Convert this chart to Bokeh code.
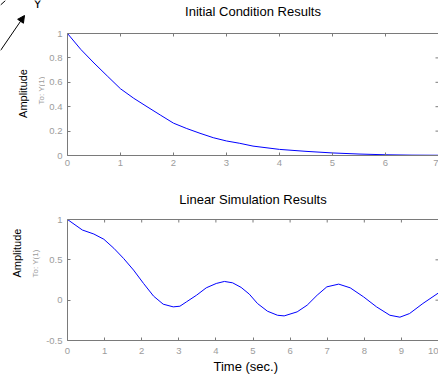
import math
from bokeh.plotting import figure
from bokeh.layouts import column, row
from bokeh.models import Range1d, LinearAxis, FixedTicker, Arrow, NormalHead, Label, Title
from bokeh.embed import file_html
from bokeh.resources import INLINE

# ---- data ----
t_init = [0, 0.25, 0.5, 0.75, 1, 1.25, 1.5, 1.75, 2, 2.25, 2.5, 2.75, 3, 3.25, 3.5, 4, 4.5, 5, 5.5, 6, 6.5, 7]
y_init = [1, 0.87, 0.758, 0.652, 0.547, 0.469, 0.40, 0.332, 0.265, 0.221, 0.182, 0.146, 0.119, 0.10,
          0.077, 0.05, 0.034, 0.021, 0.012, 0.006, 0.003, 0.002]

t_lin = [0, 0.40, 0.71, 0.98, 1.25, 1.51, 1.78, 2.05, 2.32, 2.58, 2.85, 3.03, 3.21, 3.48, 3.74, 4.01,
         4.23, 4.45, 4.68, 4.90, 5.12, 5.39, 5.66, 5.84, 6.19, 6.46, 6.73, 6.99, 7.31, 7.62, 7.98,
         8.33, 8.69, 8.96, 9.22, 9.58, 10]
y_lin = [1, 0.87, 0.82, 0.755, 0.643, 0.518, 0.373, 0.207, 0.05, -0.05, -0.083, -0.075, -0.02, 0.062,
         0.153, 0.207, 0.232, 0.215, 0.158, 0.075, -0.041, -0.137, -0.187, -0.195, -0.145, -0.062,
         0.062, 0.165, 0.199, 0.153, 0.041, -0.083, -0.187, -0.211, -0.166, -0.041, 0.09]

x_ticks_init = [0, 1, 2, 3, 4, 5, 6, 7]
x_labels_init = ["0", "1", "2", "3", "4", "5", "6", "7"]
y_ticks_init = [0, 0.2, 0.4, 0.6, 0.8, 1]
y_labels_init = ["0", "0.2", "0.4", "0.6", "0.8", "1"]

x_ticks_lin = [0, 1, 2, 3, 4, 5, 6, 7, 8, 9, 10]
x_labels_lin = ["0", "1", "2", "3", "4", "5", "6", "7", "8", "9", "10"]
y_ticks_lin = [-0.5, 0, 0.5, 1]
y_labels_lin = ["-0.5", "0", "0.5", "1"]

title_init = "Initial Condition Results"
title_lin = "Linear Simulation Results"
ylabel_outer = "Amplitude"
ylabel_inner = "To: Y(1)"
xlabel = "Time (sec.)"
corner_text = "Y"

FONT = "Liberation Sans"
AXC = "#7a7a7a"
TLC = "#9c9c9c"


def no_frame_align(p):
    if "frame_align" in p.properties():
        p.frame_align = False
        return True
    return False


def style_axis(ax, ticks, labels, standoff):
    ax.ticker = FixedTicker(ticks=ticks)
    ax.major_label_overrides = {t: l for t, l in zip(ticks, labels)}
    ax.axis_line_color = AXC
    ax.major_tick_line_color = AXC
    ax.major_tick_in = 3
    ax.major_tick_out = 0
    ax.minor_tick_line_color = None
    ax.major_label_text_font = FONT
    ax.major_label_text_color = TLC
    ax.major_label_text_font_size = "9.5px"
    ax.major_label_standoff = standoff


def side_title(text, size, color, offset, standoff):
    return Title(text=text, align="left", offset=offset, standoff=standoff, text_font=FONT,
                 text_font_size=size, text_font_style="normal", text_color=color)


def make_fig(t, y, xr, yr, xt, xl, yt, yl, title, width, height, lborder, bborder, xstand, tstand):
    p = figure(width=width, height=height, output_backend="svg", toolbar_location=None,
               title_location=None,
               x_range=Range1d(*xr), y_range=Range1d(*yr), x_axis_location=None, y_axis_location=None,
               min_border_left=lborder, min_border_right=0, min_border_top=33, min_border_bottom=bborder)
    p.grid.visible = False
    p.outline_line_color = None
    p.background_fill_color = "white"
    p.border_fill_color = "white"

    bottom = LinearAxis()
    style_axis(bottom, xt, xl, xstand)
    p.add_layout(bottom, "below")

    # top edge of the box, carrying the plot title as its label
    top = LinearAxis(ticker=FixedTicker(ticks=[]), axis_line_color=AXC, major_tick_line_color=None,
                     minor_tick_line_color=None, major_label_standoff=0, major_tick_in=0, major_tick_out=0,
                     axis_label=title, axis_label_standoff=tstand, axis_label_text_font=FONT,
                     axis_label_text_font_size="13px", axis_label_text_font_style="normal",
                     axis_label_text_color="black")
    p.add_layout(top, "above")

    left = LinearAxis()
    style_axis(left, yt, yl, 5)
    p.add_layout(left, "left")

    # mirrored (box) ticks on top and right edges, pointing inward
    p.ray(x=xt, y=[yr[1]] * len(xt), length=3, length_units="screen", angle=-math.pi / 2,
          line_color=AXC, line_width=1)
    p.ray(x=[xr[1]] * len(yt), y=yt, length=3, length_units="screen", angle=math.pi,
          line_color=AXC, line_width=1)

    p.line(t, y, line_color="#0000ff", line_width=1)
    return p


# top plot (its left labels live in a narrow strip to its left)
p1 = make_fig(t_init, y_init, (0, 7), (0, 1), x_ticks_init, x_labels_init, y_ticks_init, y_labels_init,
              title_init, 393, 186, 22, 31, 4, 15)

# bottom plot
p2 = make_fig(t_lin, y_lin, (0, 10), (-0.5, 1), x_ticks_lin, x_labels_lin, y_ticks_lin, y_labels_lin,
              title_lin, 438, 199, 67, 45, 7, 13)
p2.add_layout(side_title(ylabel_inner, "8px", TLC, 63, 8), "left")
p2.add_layout(side_title(ylabel_outer, "11px", "black", 63, 3), "left")
p2.add_layout(Title(text=xlabel, align="left", offset=146, standoff=1, text_font=FONT,
                    text_font_size="13px", text_font_style="normal", text_color="black"), "below")

# left strip of the top row: y labels of the top plot and the cropped arrow annotation
strip = figure(width=45, height=186, output_backend="svg", toolbar_location=None, title_location=None,
               x_range=Range1d(0, 45), y_range=Range1d(186, 0), x_axis_location=None, y_axis_location=None,
               min_border_left=0, min_border_right=0, min_border_top=0, min_border_bottom=0,
               background_fill_color="white", border_fill_color="white", outline_line_color=None)
strip.grid.visible = False
unaligned = no_frame_align(strip)
no_frame_align(p1)
no_frame_align(p2)
if not unaligned:
    # frame of the strip gets aligned with the top plot's frame (page rows 33..155)
    strip.y_range = Range1d(155, 33)

strip.add_layout(Arrow(x_start=0, y_start=50, x_end=24, y_end=15, line_color="black", line_width=1,
                       end=NormalHead(size=7, fill_color="black", line_color="black")))
strip.add_layout(Arrow(x_start=0, y_start=4.5, x_end=5, y_end=0, line_color="black", line_width=1, end=None))
strip.add_layout(Label(x=37, y=3.3, text=corner_text, text_font=FONT, text_font_size="13px",
                       text_color="black", text_baseline="alphabetic", text_align="center"))
strip.add_layout(Label(x=22.7, y=93, text=ylabel_outer, angle=math.pi / 2, text_font=FONT,
                       text_font_size="11px", text_color="black", text_baseline="alphabetic",
                       text_align="center"))
strip.add_layout(Label(x=41.3, y=90, text=ylabel_inner, angle=math.pi / 2, text_font=FONT,
                       text_font_size="8px", text_color=TLC, text_baseline="alphabetic",
                       text_align="center"))

layout = column(row(strip, p1, spacing=0), p2, spacing=0)
open("out.html", "w").write(file_html(layout, INLINE))
